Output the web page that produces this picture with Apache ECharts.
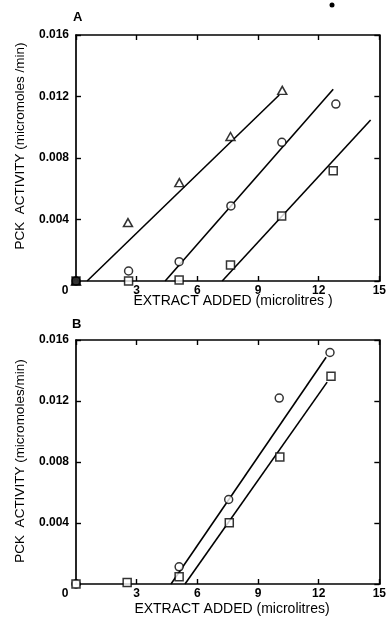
<!DOCTYPE html>
<html>
<head>
<meta charset="utf-8">
<script src="https://cdn.jsdelivr.net/npm/echarts@6/dist/echarts.min.js"></script>
<style>html,body{margin:0;padding:0;background:#fff;}#c{width:389px;height:621px;}</style>
</head>
<body>
<div id="c"></div>
<script>
// ---- Panel A data (x: extract added, microlitres; y: PCK activity, micromoles/min)
const aTriX = [0, 2.57, 5.11, 7.64, 10.2];
const aTriY = [0, 0.0038, 0.0064, 0.0094, 0.0124];
const aCirX = [0, 2.6, 5.1, 7.66, 10.18, 12.85];
const aCirY = [0, 0.00065, 0.00126, 0.00488, 0.00902, 0.01151];
const aSqX  = [0, 2.6, 5.1, 7.64, 10.17, 12.72];
const aSqY  = [0, 0, 0.00007, 0.00104, 0.00423, 0.00717];
// fitted lines (end points) in panel A
const aTriLineX = [0.55, 10.05];
const aTriLineY = [0, 0.0121];
const aCirLineX = [4.41, 12.72];
const aCirLineY = [0, 0.01247];
const aSqLineX  = [7.23, 14.57];
const aSqLineY  = [0, 0.01047];

// ---- Panel B data
const bCirX = [0, 5.1, 7.55, 10.05, 12.56];
const bCirY = [0, 0.00113, 0.00554, 0.01219, 0.01518];
const bSqX  = [0, 2.53, 5.1, 7.58, 10.08, 12.61];
const bSqY  = [0, 0.0001, 0.00048, 0.00401, 0.00833, 0.01363];
const bCirLineX = [4.7, 12.37];
const bCirLineY = [0, 0.01487];
const bSqLineX  = [5.39, 12.42];
const bSqLineY  = [0, 0.01324];

// ---- axes
const xMin = 0, xMax = 15, xStep = 3;
const yMin = 0, yMax = 0.016, yStep = 0.004;
const xTitle = 'EXTRACT ADDED (microlitres )';
const xTitleB = 'EXTRACT ADDED (microlitres)';
const yTitle = 'PCK  ACTIVITY (micromoles /min)';
const yTitleB = 'PCK  ACTIVITY (micromoles/min)';
const panelLabels = ['A', 'B'];

const pts = (xs, ys) => xs.map((x, i) => [x, ys[i]]);
const FONT = 'Liberation Sans';

function xAxes(g) {
  const base = {
    type: 'value', gridIndex: g, min: xMin, max: xMax, interval: xStep,
    splitLine: { show: false },
    axisLine: { show: true, onZero: false, lineStyle: { color: '#000', width: 1.7 } },
    axisTick: { show: true, inside: true, length: 5, lineStyle: { color: '#000', width: 1.4 } }
  };
  return [
    Object.assign({}, base, {
      position: 'bottom',
      axisLabel: {
        margin: 4, color: '#000', fontSize: 12, fontWeight: 'bold', fontFamily: FONT,
        formatter: v => v === 0 ? '{z|0}' : String(v),
        rich: { z: { padding: [0, 22, 0, 0], color: '#000', fontSize: 12, fontWeight: 'bold', fontFamily: FONT } }
      }
    }),
    Object.assign({}, base, { position: 'top', axisLabel: { show: false } })
  ];
}
function yAxes(g) {
  const base = {
    type: 'value', gridIndex: g, min: yMin, max: yMax, interval: yStep,
    splitLine: { show: false },
    axisLine: { show: true, onZero: false, lineStyle: { color: '#000', width: 1.7 } },
    axisTick: { show: true, inside: true, length: 5, lineStyle: { color: '#000', width: 1.4 } }
  };
  return [
    Object.assign({}, base, {
      position: 'left',
      axisLabel: {
        margin: 7, color: '#000', fontSize: 12, fontWeight: 'bold', fontFamily: FONT,
        formatter: v => v === 0 ? '' : v.toFixed(3)
      }
    }),
    Object.assign({}, base, { position: 'right', axisLabel: { show: false } })
  ];
}

const open = { color: '#fff', borderColor: '#000', borderWidth: 1.5 };
function scatter(name, xi, yi, data, symbol, size) {
  return { name, type: 'scatter', xAxisIndex: xi, yAxisIndex: yi, data, symbol, symbolSize: size,
    itemStyle: open, clip: false, z: 5 };
}
function fit(xi, yi, data) {
  return { type: 'line', xAxisIndex: xi, yAxisIndex: yi, data, symbol: 'none',
    lineStyle: { color: '#000', width: 1.6 }, z: 3, silent: true };
}

const aSquareData = pts(aSqX, aSqY).map((p, i) => i === 0 ? { value: p, itemStyle: { color: '#000', borderColor: '#000' } } : p);

const option = {
  animation: false,
  backgroundColor: '#fff',
  grid: [
    { left: 76, top: 35, width: 305, height: 246 },
    { left: 76, top: 340, width: 306, height: 244 }
  ],
  xAxis: [].concat(xAxes(0), xAxes(1)),
  yAxis: [].concat(yAxes(0), yAxes(1)),
  series: [
    fit(0, 0, pts(aTriLineX, aTriLineY)),
    fit(0, 0, pts(aCirLineX, aCirLineY)),
    fit(0, 0, pts(aSqLineX, aSqLineY)),
    scatter('A triangle', 0, 0, pts(aTriX, aTriY), 'triangle', [9, 8]),
    scatter('A circle', 0, 0, pts(aCirX, aCirY), 'circle', 8),
    scatter('A square', 0, 0, aSquareData, 'rect', 8),
    fit(2, 2, pts(bCirLineX, bCirLineY)),
    fit(2, 2, pts(bSqLineX, bSqLineY)),
    scatter('B circle', 2, 2, pts(bCirX, bCirY), 'circle', 8),
    scatter('B square', 2, 2, pts(bSqX, bSqY), 'rect', 8)
  ],
  graphic: [
    { type: 'text', left: 73, top: 11, style: { text: panelLabels[0], font: 'bold 13px ' + FONT, fill: '#000' } },
    { type: 'text', left: 72, top: 318, style: { text: panelLabels[1], font: 'bold 13px ' + FONT, fill: '#000' } },
    { type: 'text', x: 233, y: 301, style: { text: xTitle, font: '14px ' + FONT, fill: '#000', align: 'center', verticalAlign: 'middle' } },
    { type: 'text', x: 232, y: 609, style: { text: xTitleB, font: '14px ' + FONT, fill: '#000', align: 'center', verticalAlign: 'middle' } },
    { type: 'text', x: 20, y: 146, rotation: Math.PI / 2, style: { text: yTitle, font: '13.5px ' + FONT, fill: '#000', align: 'center', verticalAlign: 'middle' } },
    { type: 'text', x: 20, y: 461, rotation: Math.PI / 2, style: { text: yTitleB, font: '13.5px ' + FONT, fill: '#000', align: 'center', verticalAlign: 'middle' } },
    { type: 'circle', shape: { cx: 332, cy: 5, r: 2.5 }, style: { fill: '#000' } }
  ]
};
echarts.init(document.getElementById('c'), null, { renderer: 'canvas' }).setOption(option);
</script>
</body>
</html>
